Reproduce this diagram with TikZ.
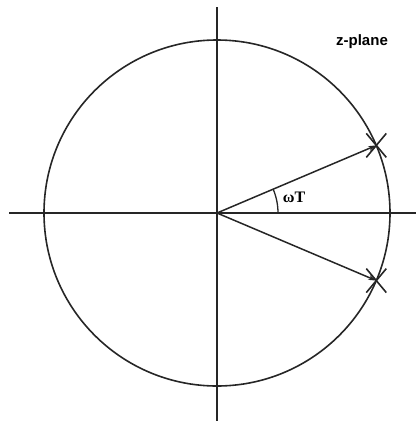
\documentclass[tikz,border=0pt]{standalone}
\usepackage{fontspec}
\setmainfont{Liberation Serif}
\newfontfamily\labelsans{Liberation Sans}
\usetikzlibrary{arrows.meta}
\begin{document}
\begin{tikzpicture}[x=1pt,y=-1pt,
  axis/.style={line width=1.6pt,black!85},
  ray/.style={line width=1.5pt,black!85,-{Stealth[length=8pt,width=5pt]}},
  crossmark/.style={line width=1.6pt,black!85}]
\useasboundingbox (0,0) rectangle (419,421);
\coordinate (O) at (217,213);
\coordinate (T) at (217,7);
\coordinate (B) at (217,421);
\coordinate (L) at (9,213);
\coordinate (R) at (416,213);
\draw[axis] (T) -- (B);
\draw[axis] (L) -- (R);
\draw[line width=1.6pt,black!85] (O) circle[radius=173];
\coordinate (P1) at (376.3,145.4);
\coordinate (P2) at (376.3,280.6);
\draw[ray] (O) -- (P1);
\draw[ray] (O) -- (P2);
\draw[crossmark] (P1) ++(-10,-12) -- ++(20,24) (P1) ++(-10,12) -- ++(20,-24);
\draw[crossmark] (P2) ++(-10,-12) -- ++(20,24) (P2) ++(-10,12) -- ++(20,-24);
\draw[line width=1.3pt,black!85] (278,213) arc[start angle=0,end angle=-23,radius=61];
\node[font=\fontsize{16}{18}\selectfont\bfseries] (wt) at (294,197) {ωT};
\node[font=\labelsans\fontsize{15}{17}\selectfont\bfseries,anchor=center] (zp) at (362,42) {z-plane};
\end{tikzpicture}
\end{document}
